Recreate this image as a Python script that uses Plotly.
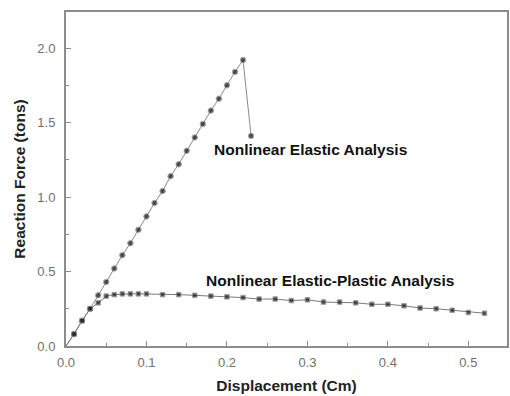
import plotly.graph_objects as go

elastic_x = [0.0, 0.01, 0.02, 0.03, 0.04, 0.05, 0.06, 0.07, 0.08, 0.09, 0.10, 0.11,
             0.12, 0.13, 0.14, 0.15, 0.16, 0.17, 0.18, 0.19, 0.20, 0.21, 0.22, 0.23]
elastic_y = [0.0, 0.08, 0.17, 0.25, 0.34, 0.43, 0.52, 0.61, 0.69, 0.78, 0.87, 0.96,
             1.04, 1.14, 1.22, 1.31, 1.40, 1.49, 1.58, 1.66, 1.75, 1.84, 1.92, 1.41]

plastic_x = [0.0, 0.01, 0.02, 0.03, 0.04, 0.05, 0.06, 0.07, 0.08, 0.09, 0.10, 0.12,
             0.14, 0.16, 0.18, 0.20, 0.22, 0.24, 0.26, 0.28, 0.30, 0.32, 0.34, 0.36,
             0.38, 0.40, 0.42, 0.44, 0.46, 0.48, 0.50, 0.52]
plastic_y = [0.0, 0.08, 0.17, 0.25, 0.29, 0.335, 0.345, 0.35, 0.35, 0.35, 0.35, 0.345,
             0.345, 0.34, 0.335, 0.33, 0.325, 0.315, 0.315, 0.305, 0.31, 0.295, 0.295, 0.29,
             0.28, 0.28, 0.27, 0.255, 0.25, 0.24, 0.225, 0.22]

x_ticks = [0.0, 0.1, 0.2, 0.3, 0.4, 0.5]
y_ticks = [0.0, 0.5, 1.0, 1.5, 2.0]
label_elastic = "Nonlinear Elastic Analysis"
label_plastic = "Nonlinear Elastic-Plastic Analysis"

fig = go.Figure()
fig.add_trace(go.Scatter(
    x=elastic_x, y=elastic_y, mode="lines+markers",
    line=dict(color="#8a8a8a", width=1),
    marker=dict(color="#111", size=[0] + [5.5] * (len(elastic_x) - 1), symbol="circle"),
    showlegend=False))
fig.add_trace(go.Scatter(
    x=plastic_x, y=plastic_y, mode="lines+markers",
    line=dict(color="#7a7a7a", width=1),
    marker=dict(color="#111", size=[0] + [4.5] * (len(plastic_x) - 1), symbol="square"),
    showlegend=False))

ann_font = dict(family="Liberation Sans", size=15.5, color="#111", weight="bold")
fig.add_annotation(x=0.182, y=1.32, text=label_elastic, showarrow=False,
                   xanchor="left", yanchor="middle", font=ann_font)
fig.add_annotation(x=0.172, y=0.44, text=label_plastic, showarrow=False,
                   xanchor="left", yanchor="middle", font=ann_font)

axis_common = dict(showline=True, linecolor="#8c8c8c", linewidth=2, mirror=True,
                   ticks="inside", ticklen=5, tickcolor="#8c8c8c", tickwidth=1,
                   showgrid=False, zeroline=False,
                   tickfont=dict(family="Liberation Sans", size=13, color="#707070"),
                   title_font=dict(family="Liberation Sans", size=15.5, color="#222", weight="bold"))

fig.update_xaxes(range=[0, 0.548], tickvals=x_ticks, ticktext=[f"{v:.1f}" for v in x_ticks],
                 minor=dict(tickvals=[0.05, 0.15, 0.25, 0.35, 0.45], ticks="inside",
                            ticklen=3, tickcolor="#8c8c8c"),
                 ticklabelstandoff=3,
                 title_text="Displacement (Cm)", title_standoff=12, **axis_common)
fig.update_yaxes(range=[0, 2.242], tickvals=y_ticks, ticktext=[f"{v:.1f}" for v in y_ticks],
                 minor=dict(tickvals=[0.25, 0.75, 1.25, 1.75], ticks="inside",
                            ticklen=3, tickcolor="#8c8c8c"),
                 ticklabelstandoff=6,
                 title_text="Reaction Force (tons)", title_standoff=8, **axis_common)

fig.update_layout(width=510, height=396, margin=dict(l=66, r=1, t=12, b=50),
                  plot_bgcolor="white", paper_bgcolor="white")

fig.write_html("out.html")
